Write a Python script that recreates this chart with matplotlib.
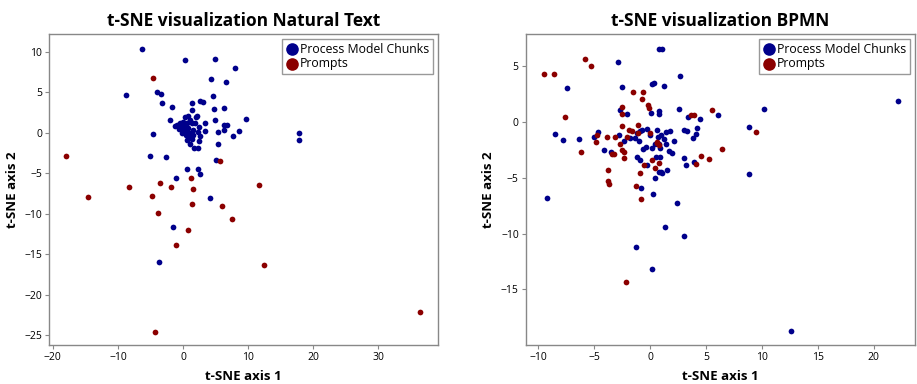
import matplotlib
matplotlib.use("Agg")
import matplotlib.pyplot as plt

plt.rcParams['font.family'] = ['Open Sans', 'DejaVu Sans']

# ---- Natural Text ----
nt_blue_x = [-6.26, 0.36, 4.92, 7.95, 4.31, 6.56, -8.82, -4.0, -3.38, -3.23, -1.69, 1.44, 1.44,
             2.62, 3.03, 4.56, 4.82, 6.36, 2.21, -1.95, -1.18, 4.97, 6.82, 6.26, 6.26, 5.33, 3.44,
             8.62, 7.69, 5.38, -4.62, -5.08, -2.66, 5.03, 0.62, 2.26, 2.67, -1.13, 4.1, -1.54,
             -3.64, 9.69, 17.85, 17.8, 1.95, 3.38, 1.69, 2.26, 1.08, 0.67, 2.41, 2.36, 2.62, 2.41,
             1.59, 1.33, 0.31, 0.82, 1.08, 0.05, -0.46, 0.56, 1.33, -0.21, 0.31, 0.82, -0.56, 0.05,
             0.56, 1.08, -0.21, 0.46, 0.97, 1.59, -0.87, 1.85]
nt_blue_y = [10.29, 8.93, 9.1, 7.94, 6.67, 6.21, 4.65, 5.06, 4.81, 3.7, 3.2, 3.66, 2.79,
             3.9, 3.86, 4.52, 2.91, 3.08, 2.05, 1.56, 0.9, 1.6, 1.0, 1.0, 0.32, 0.15, 0.27,
             0.23, -0.38, -1.37, -0.1, -2.82, -2.94, -3.35, -4.5, -4.42, -5.08, -5.62, -8.05, -11.64,
             -15.97, 1.76, 0.03, -0.92, 1.93, 1.19, -1.87, -1.87, -1.37, -0.88, 0.77, 0.15, -0.38, -1.04,
             -0.26, -0.8, 2.0, 2.09, 1.6, 1.39, 1.19, 1.19, 1.19, 0.77, 0.77, 0.57, 0.44, 0.36,
             0.15, -0.05, -0.05, -0.26, -0.67, 0.36, 0.98, 1.19]
nt_red_x = [-4.56, -17.95, 5.64, 1.28, -8.26, -3.49, -1.85, 1.56, -14.56, -4.77, 1.33, 6.0,
            7.49, -3.79, 0.77, -1.13, -4.26, 11.74, 12.5, 36.5]
nt_red_y = [6.71, -2.82, -3.52, -5.62, -6.73, -6.15, -6.69, -6.9, -7.97, -7.8, -8.83, -9.04,
            -10.69, -9.95, -11.97, -13.9, -24.6, -6.44, -16.38, -22.1]

# ---- BPMN ----
bp_blue_x = [-2.86, 0.81, 1.1, -7.46, -2.51, 0.15, 0.33, 1.28, 2.66, -2.66, -2.03, 0.09, 0.81, 0.83,
             2.62, 3.37, 4.48, 6.06, -8.48, -7.79, -6.36, -5.01, -4.62, -2.75, -1.76, -2.3, -0.92,
             -0.69, -0.3, -1.19, -1.37, 0.63, 1.46, 1.79, 3.04, 3.31, 4.24, 4.12, 3.88, 1.28, -0.96,
             0.0, 0.69, 0.45, 2.12, 1.43, 0.87, 0.21, -0.36, -0.63, -4.12, -3.52, 1.67, 1.97, -1.16,
             -0.9, -0.24, 0.54, 0.87, 0.78, 0.96, 1.1, 1.49, 0.45, 3.02, 3.25, 3.97, -0.78, -9.25,
             0.24, 2.44, 1.34, 3.02, -1.25, 0.18, 10.2, 8.86, 8.83, 22.14, 12.62, 1.01, 0.83]
bp_blue_y = [5.35, 6.57, 6.51, 3.01, 3.1, 3.43, 3.46, 3.22, 4.12, 1.07, 0.68, 0.8, 0.98, 0.68,
             1.13, 0.41, 0.3, 0.65, -1.05, -1.59, -1.5, -1.32, -0.87, -1.14, -1.41, -1.71, -0.84,
             -0.72, -0.64, -1.02, -1.41, -0.69, -0.93, -0.84, -0.75, -0.84, -0.57, -1.05, -1.47, -1.5, -1.71,
             -1.2, -1.38, -2.01, -1.71, -2.01, -2.3, -2.37, -2.22, -2.46, -2.52, -2.7, -2.61, -2.79, -3.17,
             -3.44, -3.83, -3.15, -3.15, -4.46, -4.49, -4.55, -4.34, -5.0, -3.24, -3.83, -3.62, -5.89, -6.82,
             -6.43, -7.3, -9.43, -10.23, -11.22, -13.16, 1.16, -0.48, -4.7, 1.91, -18.75, -1.17, -1.95]
bp_red_x = [-9.52, -8.57, -5.79, -5.25, -7.61, -1.52, -0.6, -0.72, -0.18, -0.12, -2.53, -2.53,
            3.7, 3.91, 5.55, -2.53, -1.04, -1.88, -1.61, -1.04, -4.74, -3.85, -3.1, -2.09, -2.69,
            0.66, -6.18, -2.53, -2.3, -3.43, -3.2, -2.3, 0.15, -0.54, 0.47, 0.81, -4.83, 4.54,
            5.26, 4.09, -3.79, -3.73, -3.67, -0.92, -1.25, -0.81, -2.18, 9.46, 6.44, 0.0, 0.66, 0.84]
bp_red_y = [4.3, 4.33, 5.7, 5.01, 0.47, 2.68, 2.72, 2.05, 1.49, 1.25, 1.31, 0.68,
            0.65, 0.65, 1.1, -0.37, -0.28, -0.75, -0.84, -0.96, -1.14, -1.35, -1.32, -1.32, -1.98,
            -1.86, -2.7, -2.55, -2.73, -2.9, -2.84, -3.2, -3.44, -3.83, -4.13, -3.68, -1.83, -3.05,
            -3.35, -3.74, -4.28, -5.3, -5.6, -4.58, -5.71, -6.94, -14.39, -0.93, -2.4, -0.96, -1.77, -2.1]

BLUE = '#00008b'
RED = '#8b0000'
labels = ['Process Model Chunks', 'Prompts']

fig = plt.figure(figsize=(9.17, 3.84), dpi=100)
ax1 = fig.add_axes([0.0534, 0.1016, 0.4242, 0.8099])
ax2 = fig.add_axes([0.5733, 0.1016, 0.4245, 0.8099])

def style(ax, title):
    ax.set_title(title, fontsize=12.5, fontweight='bold', pad=6)
    ax.set_xlabel('t-SNE axis 1', fontsize=9.5, fontweight='bold', labelpad=5)
    ax.set_ylabel('t-SNE axis 2', fontsize=9.5, fontweight='bold', labelpad=4)
    for s in ax.spines.values():
        s.set_color('#888888')
        s.set_linewidth(1.0)
    ax.tick_params(colors='#888888', labelcolor='black', labelsize=7.5, length=3,
                   width=0.8, pad=2)
    leg = ax.legend(loc='upper right', fontsize=8.8, fancybox=False, framealpha=1,
                    edgecolor='#999999', handletextpad=0.2, borderpad=0.3,
                    labelspacing=0.15, borderaxespad=0.4, markerscale=2.2, handlelength=1.0)
    leg.get_frame().set_linewidth(1.0)

ax1.scatter(nt_blue_x, nt_blue_y, s=17, c=BLUE, label=labels[0], linewidths=0)
ax1.scatter(nt_red_x, nt_red_y, s=17, c=RED, label=labels[1], linewidths=0)
ax1.set_xlim(-20.6, 39.2)
ax1.set_ylim(-26.2, 12.2)
ax1.set_xticks([-20, -10, 0, 10, 20, 30])
ax1.set_yticks([10, 5, 0, -5, -10, -15, -20, -25])
style(ax1, 't-SNE visualization Natural Text')

ax2.scatter(bp_blue_x, bp_blue_y, s=17, c=BLUE, label=labels[0], linewidths=0)
ax2.scatter(bp_red_x, bp_red_y, s=17, c=RED, label=labels[1], linewidths=0)
ax2.set_xlim(-11.13, 23.7)
ax2.set_ylim(-20.0, 7.9)
ax2.set_xticks([-10, -5, 0, 5, 10, 15, 20])
ax2.set_yticks([5, 0, -5, -10, -15])
style(ax2, 't-SNE visualization BPMN')

fig.savefig('out.png', dpi=100)
